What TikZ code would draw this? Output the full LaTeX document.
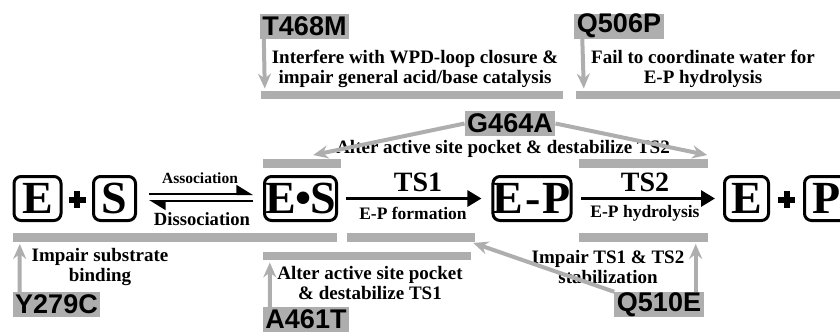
\documentclass[tikz,border=0pt]{standalone}
\usepackage{fontspec}
\setmainfont{Liberation Serif}
\newfontfamily\mutfont{Liberation Sans}
\usetikzlibrary{arrows.meta,calc}
\definecolor{bargray}{RGB}{174,174,174}
\tikzset{
  species/.style={draw,line width=3pt,rounded corners=7pt,minimum height=44pt,
    inner sep=0pt,font=\fontsize{46}{46}\selectfont\bfseries},
  mutation/.style={fill=bargray,inner xsep=2.5pt,inner ysep=0pt,minimum height=25pt,
    font=\fontsize{27}{27}\selectfont\mutfont\bfseries},
  effect/.style={align=center,inner sep=0pt,font=\fontsize{19}{20}\selectfont\bfseries},
  bar/.style={fill=bargray,inner sep=0pt,minimum height=8.5pt},
  hit/.style={draw=bargray,line width=4pt,-{Stealth[length=15pt,width=13pt,inset=5pt]}},
  rxn/.style={line width=3pt,-{Triangle[length=14pt,width=16pt]}},
  eq/.style={line width=2pt,-{Triangle[left,length=15pt,width=18pt]}},
}
\begin{document}
\begin{tikzpicture}[x=1pt,y=-1pt]
  \useasboundingbox (0,0) rectangle (840,333);
  % reaction scheme
  \node[species,minimum width=47pt] (nE) at (37.5,198.5) {E};
  \node[species,minimum width=42pt] (nS) at (114.5,198.5) {S};
  \node[species,minimum width=72pt] (nES) at (300.5,198.5) {E\kern-1pt•\kern-1pt S};
  \node[species,minimum width=77pt] (nEP) at (532,198.5) {E\kern2pt-\kern2pt P};
  \node[species,minimum width=44pt] (nEb) at (746.5,198.5) {E};
  \node[species,minimum width=45pt] (nP) at (827,198.5) {P};
  \coordinate (plusA) at ($(nE.east)!0.5!(nS.west)+(0,1)$);
  \coordinate (plusB) at ($(nEb.east)!0.5!(nP.west)+(0,1)$);
  \foreach \pl in {plusA,plusB}
    \draw[line width=6pt] ($(\pl)+(-8.5,0)$) -- ($(\pl)+(8.5,0)$)
      ($(\pl)+(0,-8.5)$) -- ($(\pl)+(0,8.5)$);
  \draw[eq] ($(nS.east)+(12,-4.5)$) -- ($(nES.west)+(-10,-4.5)$);
  \draw[eq] ($(nES.west)+(-10,2.5)$) -- ($(nS.east)+(12,2.5)$);
  \draw[rxn] ($(nES.east)+(8,0)$) -- ($(nEP.west)+(-10,0)$);
  \draw[rxn] ($(nEP.east)+(8.5,0)$) -- ($(nEb.west)+(-8,0)$);
  \node[font=\fontsize{15.5}{16}\selectfont\bfseries] (lAssoc) at (200,178) {Association};
  \node[font=\fontsize{18.6}{19}\selectfont\bfseries] (lDissoc) at (202,219) {Dissociation};
  \node[font=\fontsize{28}{28}\selectfont\bfseries] (lTSone) at (418,182) {TS1};
  \node[font=\fontsize{17.5}{18}\selectfont\bfseries] (lEPf) at (413,213) {E-P formation};
  \node[font=\fontsize{28}{28}\selectfont\bfseries] (lTStwo) at (645,182) {TS2};
  \node[font=\fontsize{17.5}{18}\selectfont\bfseries] (lEPh) at (645,213) {E-P hydrolysis};
  % bars marking the affected steps
  \node[bar,minimum width=302pt] (bWPD) at (412,95) {};
  \node[bar,minimum width=270pt] (bWater) at (711,95) {};
  \node[bar,minimum width=78pt] (bPocketES) at (302,163.5) {};
  \node[bar,minimum width=129pt] (bPocketEP) at (643.5,163.5) {};
  \node[bar,minimum width=324pt] (bBind) at (175,237.5) {};
  \node[bar,minimum width=128pt] (bTSone) at (411,237.5) {};
  \node[bar,minimum width=129pt] (bTStwo) at (643.5,237.5) {};
  \node[bar,minimum width=208pt] (bPocketTS) at (367,256) {};
  % mutations
  \node[mutation] (T468M) at (304.5,26) {T468M};
  \node[mutation] (Q506P) at (619,26) {Q506P};
  \node[mutation] (G464A) at (510,123.5) {G464A};
  \node[mutation] (Y279C) at (56.5,304.5) {Y279C};
  \node[mutation] (A461T) at (306,319.5) {A461T};
  \node[mutation] (Q510E) at (659,304.5) {Q510E};
  % effects
  \node[effect] (tWPD) at (415,69) {Interfere with WPD-loop closure \&\\impair general acid/base catalysis};
  \node[effect] (tWater) at (703,69) {Fail to coordinate water for\\E-P hydrolysis};
  \node[effect] (tPocketTwo) at (503,149) {Alter active site pocket \& destabilize TS2};
  \node[effect] (tBind) at (100,267) {Impair substrate\\binding};
  \node[effect] (tPocketOne) at (370,283) {Alter active site pocket\\\& destabilize TS1};
  \node[effect] (tStab) at (608,267) {Impair TS1 \& TS2\\stabilization};
  % arrows from mutations to steps
  \draw[hit] ($(T468M.south west)+(4,0)$) -- ($(bWPD.north west)+(4,-2)$);
  \draw[hit] ($(Q506P.south west)+(8,0)$) -- ($(bWater.north west)+(8,-2)$);
  \draw[hit] (G464A.west) -- ($(bPocketES.north east)+(-28,-4)$);
  \draw[hit] (G464A.east) -- ($(bPocketEP.north east)+(-1,-4)$);
  \draw[hit] ($(Y279C.north west)+(7,0)$) -- ($(bBind.south west)+(7,2)$);
  \draw[hit] ($(A461T.north west)+(7,0)$) -- ($(bPocketTS.south west)+(7,2)$);
  \coordinate (qUp) at ($(Q510E.north east)+(-8,0)$);
  \draw[hit] (qUp) -- ($(qUp |- bTStwo.south)+(0,2)$);
  \draw[hit] (Q510E.north west) -- ($(bTSone.south east)+(-2,1)$);
\end{tikzpicture}
\end{document}
